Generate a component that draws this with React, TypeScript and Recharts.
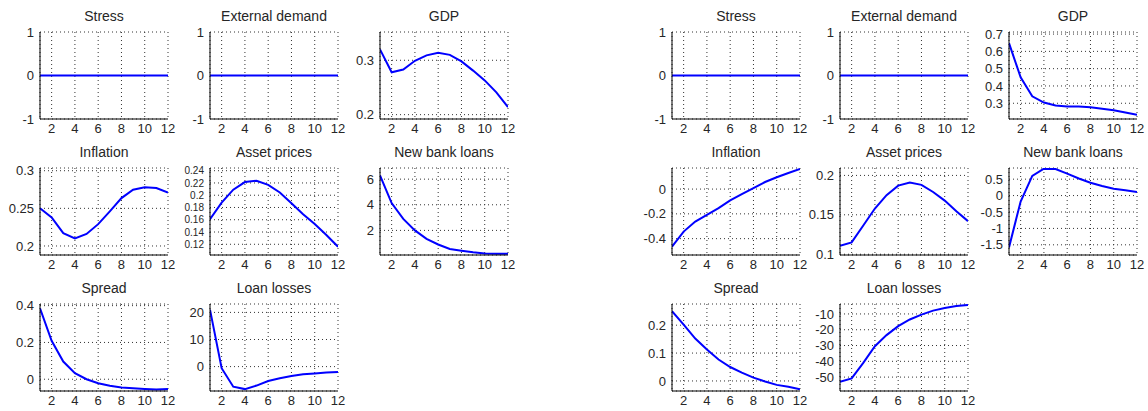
import { LineChart, Line, XAxis, YAxis, CartesianGrid } from "recharts";

// horizon (quarters)
const steps = [1, 2, 3, 4, 5, 6, 7, 8, 9, 10, 11, 12];
const xTicks = [2, 4, 6, 8, 10, 12];

// left block of impulse responses
const leftStress = [0, 0, 0, 0, 0, 0, 0, 0, 0, 0, 0, 0];
const leftExtDemand = [0, 0, 0, 0, 0, 0, 0, 0, 0, 0, 0, 0];
const leftGdp = [0.32, 0.278, 0.283, 0.299, 0.309, 0.314, 0.31, 0.298, 0.281, 0.263, 0.241, 0.214];
const leftInflation = [0.25, 0.238, 0.217, 0.21, 0.216, 0.229, 0.246, 0.2636, 0.2747, 0.278, 0.277, 0.271];
const leftAssetPrices = [0.161, 0.188, 0.209, 0.2215, 0.2236, 0.217, 0.2045, 0.187, 0.169, 0.153, 0.135, 0.116];
const leftNewLoans = [6.3, 4.13, 2.9, 2.0, 1.34, 0.9, 0.55, 0.42, 0.29, 0.2, 0.18, 0.17];
const leftSpread = [0.385, 0.209, 0.096, 0.033, 0.0, -0.022, -0.035, -0.045, -0.049, -0.053, -0.056, -0.053];
const leftLoanLosses = [21, -0.6, -7.4, -8.3, -7, -5.3, -4.3, -3.5, -2.8, -2.5, -2.2, -2.0];

// right block of impulse responses
const rightStress = [0, 0, 0, 0, 0, 0, 0, 0, 0, 0, 0, 0];
const rightExtDemand = [0, 0, 0, 0, 0, 0, 0, 0, 0, 0, 0, 0];
const rightGdp = [0.648, 0.45, 0.34, 0.304, 0.287, 0.281, 0.281, 0.277, 0.268, 0.26, 0.247, 0.234];
const rightInflation = [-0.465, -0.343, -0.262, -0.208, -0.154, -0.092, -0.04, 0.008, 0.057, 0.095, 0.13, 0.162];
const rightAssetPrices = [0.1107, 0.115, 0.1365, 0.158, 0.175, 0.187, 0.191, 0.188, 0.179, 0.168, 0.1545, 0.142];
const rightNewLoans = [-1.58, -0.18, 0.6, 0.82, 0.81, 0.67, 0.52, 0.39, 0.29, 0.21, 0.16, 0.11];
const rightSpread = [0.25, 0.202, 0.152, 0.113, 0.077, 0.05, 0.03, 0.012, -0.002, -0.014, -0.021, -0.03];
const rightLoanLosses = [-53, -50.8, -41, -30.4, -23.4, -17.7, -13.5, -10.4, -7.9, -6.2, -4.9, -4.3];

// y tick labels
const unitTicks = [-1, 0, 1];
const leftGdpTicks = [0.2, 0.3];
const leftInflationTicks = [0.2, 0.25, 0.3];
const leftAssetTicks = [0.12, 0.14, 0.16, 0.18, 0.2, 0.22, 0.24];
const leftLoansTicks = [2, 4, 6];
const leftSpreadTicks = [0, 0.2, 0.4];
const leftLossTicks = [0, 10, 20];
const rightGdpTicks = [0.3, 0.4, 0.5, 0.6, 0.7];
const rightInflationTicks = [-0.4, -0.2, 0];
const rightAssetTicks = [0.1, 0.15, 0.2];
const rightLoansTicks = [-1.5, -1, -0.5, 0, 0.5];
const rightSpreadTicks = [0, 0.1, 0.2];
const rightLossTicks = [-50, -40, -30, -20, -10];

const FONT = '"Liberation Sans", Arial, sans-serif';
const PW = 128;
const PH = 87;
const YW = 45;
const MT = 10;
const MR = 10;
const XH = 25;

const colsLeft = [40, 210, 380];
const colsRight = [672, 840, 1009];
const rows = [32, 168, 304];

type PanelProps = {
  title: string;
  values: number[];
  domain: [number, number];
  ticks: number[];
  left: number;
  top: number;
  yFont?: number;
};

const fmt = (v: number) => String(+v.toFixed(4));

function Panel({ title, values, domain, ticks, left, top, yFont = 13 }: PanelProps) {
  const data = steps.map((x, i) => ({ x, y: values[i] }));
  const xTick = { fontSize: 13, fill: "#262626", fontFamily: FONT };
  const yTick = { fontSize: yFont, fill: "#262626", fontFamily: FONT };
  return (
    <>
      <div
        style={{
          position: "absolute",
          left: left - 10,
          top: top - 25,
          width: PW + 20,
          textAlign: "center",
          fontFamily: FONT,
          fontSize: 14,
          color: "#262626",
          lineHeight: "18px",
        }}
      >
        {title}
      </div>
      <div style={{ position: "absolute", left: left - YW, top: top - MT }}>
        <LineChart
          width={YW + PW + MR}
          height={MT + PH + XH}
          data={data}
          margin={{ top: MT, right: MR, bottom: 0, left: 0 }}
        >
          <CartesianGrid stroke="#333" strokeDasharray="1 3" />
          <XAxis
            dataKey="x"
            type="number"
            domain={[1, 12]}
            ticks={xTicks}
            interval={0}
            allowDataOverflow
            height={XH}
            tick={xTick}
            tickLine={false}
            tickSize={3}
            tickMargin={2}
            axisLine={{ stroke: "#000" }}
          />
          <YAxis
            type="number"
            domain={domain}
            ticks={ticks}
            interval={0}
            allowDataOverflow
            width={YW}
            tick={yTick}
            tickFormatter={fmt}
            tickLine={false}
            tickSize={4}
            tickMargin={2}
            axisLine={{ stroke: "#000" }}
          />
          <Line
            type="linear"
            dataKey="y"
            stroke="#0000ff"
            strokeWidth={2}
            dot={false}
            isAnimationActive={false}
          />
        </LineChart>
      </div>
    </>
  );
}

const panels: PanelProps[] = [
  { title: "Stress", values: leftStress, domain: [-1, 1], ticks: unitTicks, left: colsLeft[0], top: rows[0] },
  { title: "External demand", values: leftExtDemand, domain: [-1, 1], ticks: unitTicks, left: colsLeft[1], top: rows[0] },
  { title: "GDP", values: leftGdp, domain: [0.192, 0.352], ticks: leftGdpTicks, left: colsLeft[2], top: rows[0] },
  { title: "Inflation", values: leftInflation, domain: [0.188, 0.3036], ticks: leftInflationTicks, left: colsLeft[0], top: rows[1] },
  { title: "Asset prices", values: leftAssetPrices, domain: [0.1025, 0.2444], ticks: leftAssetTicks, left: colsLeft[1], top: rows[1], yFont: 10 },
  { title: "New bank loans", values: leftNewLoans, domain: [0.08, 6.87], ticks: leftLoansTicks, left: colsLeft[2], top: rows[1] },
  { title: "Spread", values: leftSpread, domain: [-0.064, 0.409], ticks: leftSpreadTicks, left: colsLeft[0], top: rows[2] },
  { title: "Loan losses", values: leftLoanLosses, domain: [-9, 23.1], ticks: leftLossTicks, left: colsLeft[1], top: rows[2] },

  { title: "Stress", values: rightStress, domain: [-1, 1], ticks: unitTicks, left: colsRight[0], top: rows[0] },
  { title: "External demand", values: rightExtDemand, domain: [-1, 1], ticks: unitTicks, left: colsRight[1], top: rows[0] },
  { title: "GDP", values: rightGdp, domain: [0.209, 0.712], ticks: rightGdpTicks, left: colsRight[2], top: rows[0] },
  { title: "Inflation", values: rightInflation, domain: [-0.532, 0.17], ticks: rightInflationTicks, left: colsRight[0], top: rows[1] },
  { title: "Asset prices", values: rightAssetPrices, domain: [0.099, 0.2094], ticks: rightAssetTicks, left: colsRight[1], top: rows[1] },
  { title: "New bank loans", values: rightNewLoans, domain: [-1.81, 0.84], ticks: rightLoansTicks, left: colsRight[2], top: rows[1] },
  { title: "Spread", values: rightSpread, domain: [-0.036, 0.276], ticks: rightSpreadTicks, left: colsRight[0], top: rows[2] },
  { title: "Loan losses", values: rightLoanLosses, domain: [-58.8, -3.7], ticks: rightLossTicks, left: colsRight[1], top: rows[2] },
];

export default function App() {
  return (
    <>
      <style>{`body { margin: 0; background: #fff; }`}</style>
      <div style={{ position: "relative", width: 1148, height: 411, background: "#fff", overflow: "hidden" }}>
        {panels.map((p, i) => (
          <Panel key={i} {...p} />
        ))}
      </div>
    </>
  );
}
